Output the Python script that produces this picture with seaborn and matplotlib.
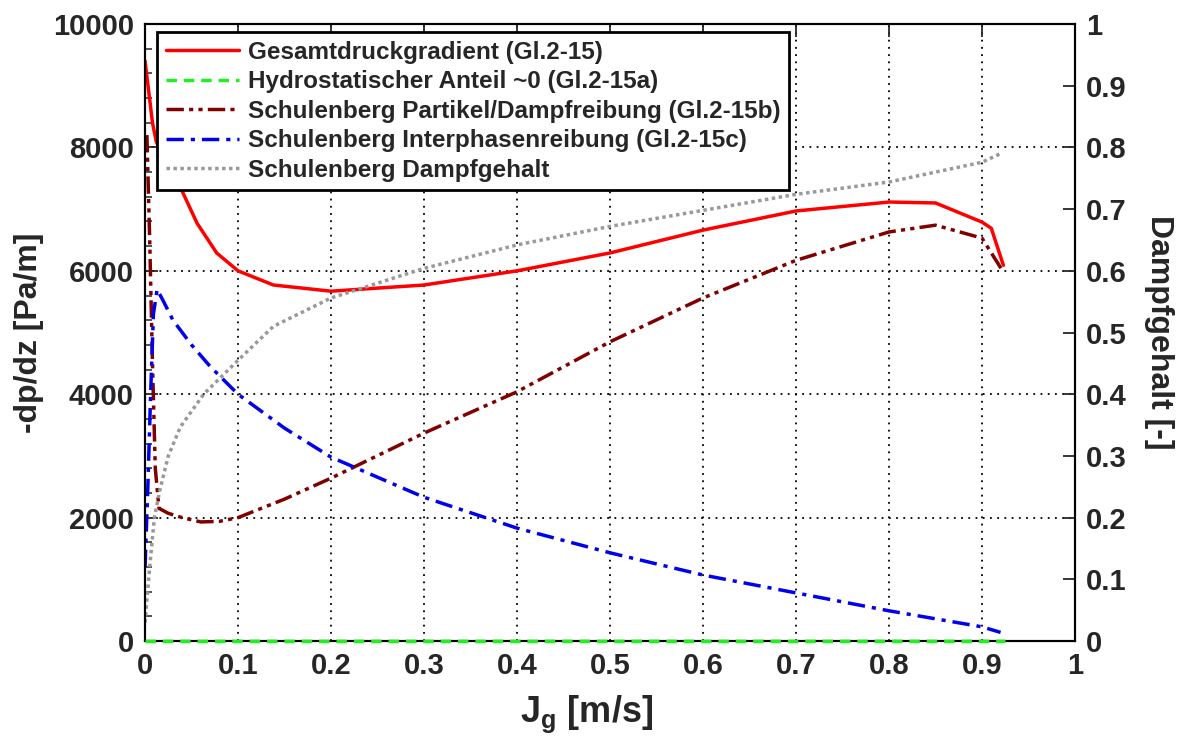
import matplotlib
matplotlib.use('Agg')
import matplotlib.pyplot as plt
import seaborn as sns
from matplotlib.ticker import MultipleLocator

# Data
x_total = [0, 0.004, 0.008, 0.012, 0.02, 0.035, 0.056, 0.077, 0.1, 0.138, 0.2,
           0.3, 0.4, 0.5, 0.6, 0.7, 0.8, 0.85, 0.9, 0.91, 0.923]
total = [9400, 8900, 8400, 8100, 7800, 7450, 6770, 6290, 6000, 5770, 5670,
         5770, 6000, 6290, 6660, 6970, 7115, 7100, 6790, 6690, 6090]

x_hydro = [0, 0.925]
hydro = [0, 0]

x_part = [0.002, 0.005, 0.008, 0.011, 0.015, 0.025, 0.04, 0.06, 0.08, 0.1, 0.15,
          0.2, 0.3, 0.4, 0.5, 0.6, 0.7, 0.8, 0.85, 0.9, 0.923]
part = [8200, 6500, 4500, 2800, 2150, 2070, 2000, 1930, 1940, 2000, 2300,
        2640, 3370, 4040, 4850, 5560, 6170, 6630, 6740, 6530, 5980]

x_inter = [0, 0.003, 0.006, 0.009, 0.013, 0.02, 0.03, 0.05, 0.07, 0.1, 0.15,
           0.2, 0.3, 0.4, 0.5, 0.6, 0.7, 0.8, 0.9, 0.92]
inter = [1200, 2500, 4000, 5300, 5700, 5500, 5200, 4800, 4450, 4000, 3450,
         2980, 2330, 1830, 1430, 1070, 780, 490, 230, 140]

x_vapor = [0, 0.005, 0.01, 0.016, 0.025, 0.038, 0.063, 0.1, 0.138, 0.2, 0.3,
           0.4, 0.5, 0.6, 0.7, 0.8, 0.85, 0.9, 0.92]
vapor = [0.03, 0.12, 0.2, 0.245, 0.3, 0.347, 0.40, 0.455, 0.51, 0.556, 0.604,
         0.642, 0.672, 0.698, 0.724, 0.744, 0.76, 0.776, 0.79]

labels = ['Gesamtdruckgradient (Gl.2-15)',
          'Hydrostatischer Anteil ~0 (Gl.2-15a)',
          'Schulenberg Partikel/Dampfreibung (Gl.2-15b)',
          'Schulenberg Interphasenreibung (Gl.2-15c)',
          'Schulenberg Dampfgehalt']

sns.set_style('white')
plt.rcParams['font.family'] = ['Liberation Sans', 'DejaVu Sans']
plt.rcParams['font.weight'] = 'bold'
plt.rcParams['mathtext.fontset'] = 'custom'
plt.rcParams['mathtext.rm'] = 'Liberation Sans:bold'
plt.rcParams['mathtext.it'] = 'Liberation Sans:bold'
plt.rcParams['mathtext.bf'] = 'Liberation Sans:bold'

fig = plt.figure(figsize=(11.86, 7.44), dpi=100)
ax = fig.add_axes([0.1223, 0.1384, 0.7841, 0.8293])
ax2 = ax.twinx()

sns.lineplot(x=x_total, y=total, ax=ax, color='#ff0000', lw=2.5,
             sort=False, estimator=None, label=labels[0], legend=False)
sns.lineplot(x=x_hydro, y=hydro, ax=ax, color='#22ee22', lw=2.5,
             sort=False, estimator=None, label=labels[1], legend=False)
green = ax.lines[-1]
green.set_dashes((3, 2))
sns.lineplot(x=x_part, y=part, ax=ax, color='#800000', lw=2.5,
             sort=False, estimator=None, label=labels[2], legend=False)
ax.lines[-1].set_dashes((5, 1.5, 1.2, 1.5, 1.2, 1.5))
sns.lineplot(x=x_inter, y=inter, ax=ax, color='#0000ee', lw=2.5,
             sort=False, estimator=None, label=labels[3], legend=False)
ax.lines[-1].set_dashes((5, 2, 1.2, 2))
sns.lineplot(x=x_vapor, y=vapor, ax=ax2, color='#999999', lw=2.5,
             sort=False, estimator=None, label=labels[4], legend=False)
ax2.lines[-1].set_dashes((1, 1))

# green zero line sits on the x axis; draw it above the spine
ax2.add_line(matplotlib.lines.Line2D(green.get_xdata(), green.get_ydata(),
                                     transform=ax.transData, color='#22ee22',
                                     lw=2.5, dashes=(3, 2), clip_on=False,
                                     zorder=5))

ax.set_xlim(0, 1)
ax.set_ylim(0, 10000)
ax2.set_ylim(0, 1)

ax.xaxis.set_minor_locator(MultipleLocator(0.02))
ax.yaxis.set_major_locator(MultipleLocator(2000))
ax.yaxis.set_minor_locator(MultipleLocator(400))

ax.set_xticks([i / 10 for i in range(11)])
ax.set_xticklabels(['0'] + ['0.%d' % i for i in range(1, 10)] + ['1'])
ax2.set_yticks([i / 10 for i in range(11)])
ax2.set_yticklabels(['0'] + ['0.%d' % i for i in range(1, 10)] + ['1'])

ax.grid(True, which='major', color='black', linestyle=(0, (1, 3)), lw=1.3)
ax.tick_params(which='both', direction='in', top=True, right=False,
               labelsize=21, pad=8)
ax.tick_params(which='major', length=9, width=1.3)
ax.tick_params(which='minor', length=5, width=1.1)
ax.tick_params(axis='x', which='minor', top=False)
ax2.tick_params(which='both', direction='in', labelsize=21, length=9,
                width=1.3, pad=8)

for a in (ax, ax2):
    for s in a.spines.values():
        s.set_linewidth(1.5)
        s.set_color('black')

ax.set_xlabel('J$_\\mathrm{g}$ [m/s]', fontsize=26, fontweight='bold',
              labelpad=10)
ax.xaxis.label.set_x(0.475)
ax.set_ylabel('-dp/dz [Pa/m]', fontsize=23, fontweight='bold', labelpad=6)
ax2.set_ylabel('Dampfgehalt [-]', fontsize=23, fontweight='bold',
               rotation=-90, labelpad=34)

handles = ax.lines[:4] + ax2.lines[:1]
leg = ax2.legend(handles, labels, loc='upper left',
                 bbox_to_anchor=(0.013, 0.987), borderaxespad=0,
                 fancybox=False, framealpha=1, edgecolor='black',
                 prop={'size': 17.5, 'weight': 'bold'}, handlelength=3.0,
                 labelspacing=0.27, borderpad=0.35, handletextpad=0.4)
leg.get_frame().set_linewidth(2)

fig.savefig('out.png', dpi=100)
